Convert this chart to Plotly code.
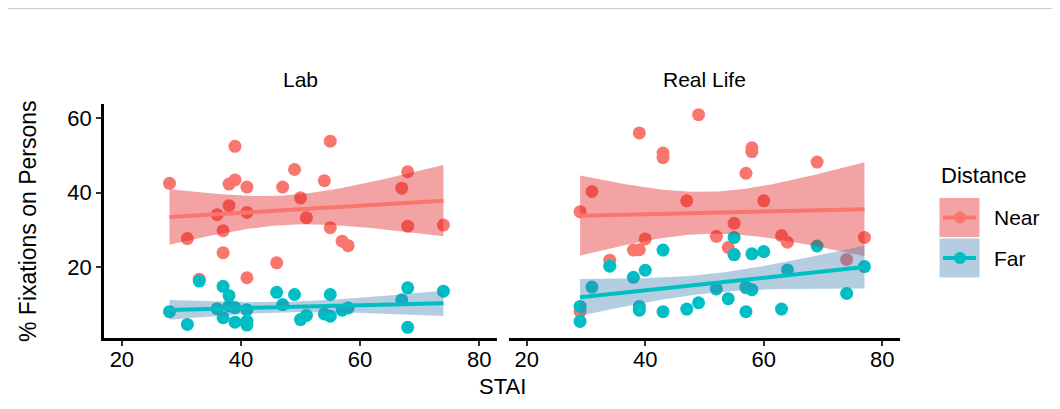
import numpy as np
import plotly.graph_objects as go
from plotly.subplots import make_subplots

# ---------------- data ----------------
lab_x = [28, 31, 33, 36, 37, 37, 38, 38, 39, 39, 41, 41, 41, 46, 47, 49, 50, 51,
         54, 55, 55, 57, 58, 67, 68, 68, 74]
lab_near = [42.5, 27.7, 16.8, 34.1, 29.8, 23.9, 36.5, 42.3, 43.4, 52.4, 41.5, 34.7,
            17.2, 21.2, 41.5, 46.2, 38.6, 33.3, 43.2, 53.8, 30.6, 27.0, 25.8, 41.2,
            45.6, 31.0, 31.3]
lab_far = [8.1, 4.7, 16.3, 8.9, 14.9, 6.5, 12.4, 9.6, 9.2, 5.3, 8.6, 5.6, 4.5, 13.3,
           10.0, 12.7, 6.0, 7.1, 7.5, 12.7, 6.9, 8.5, 9.1, 11.3, 14.5, 3.9, 13.6]

rl_x = [29, 29, 31, 34, 38, 39, 39, 40, 43, 43, 47, 49, 52, 54, 55, 55, 57, 57, 58,
        58, 60, 63, 64, 69, 74, 77]
rl_near = [34.9, 8.2, 40.3, 21.9, 24.6, 24.7, 56.0, 27.6, 50.6, 49.4, 37.8, 60.9,
           28.3, 25.3, 31.8, 23.4, 45.2, 14.5, 52.0, 51.0, 37.8, 28.5, 26.7, 48.2,
           22.1, 28.0]
rl_far = [9.5, 5.5, 14.7, 20.3, 17.3, 9.5, 8.5, 19.2, 24.6, 8.1, 8.8, 10.5, 14.2,
          11.6, 28.0, 23.4, 14.7, 8.1, 14.0, 23.6, 24.2, 8.8, 19.3, 25.7, 13.0, 20.2]

panels = ["Lab", "Real Life"]
groups = ["Near", "Far"]
x_ticks = [20, 40, 60, 80]
y_ticks = [20, 40, 60]
x_limits = [20, 80]

point_col = {"Near": "#F8766D", "Far": "#00BFC4"}
ribbon_col = {"Near": "rgba(228,26,28,0.4)", "Far": "rgba(70,130,180,0.4)"}

FONT = "Liberation Sans, Arial, sans-serif"


def t975(df):
    z = 1.959963985
    g1 = (z**3 + z) / 4
    g2 = (5 * z**5 + 16 * z**3 + 3 * z) / 96
    g3 = (3 * z**7 + 19 * z**5 + 17 * z**3 - 15 * z) / 384
    return z + g1 / df + g2 / df**2 + g3 / df**3


def lm_fit(x, y, n_grid=80):
    x = np.asarray(x, float)
    y = np.asarray(y, float)
    n = len(x)
    xm = x.mean()
    sxx = ((x - xm) ** 2).sum()
    b = ((x - xm) * (y - y.mean())).sum() / sxx
    a = y.mean() - b * xm
    res = y - (a + b * x)
    s2 = (res ** 2).sum() / (n - 2)
    g = np.linspace(x.min(), x.max(), n_grid)
    fit = a + b * g
    se = np.sqrt(s2 * (1 / n + (g - xm) ** 2 / sxx))
    t = t975(n - 2)
    return g, fit, fit - t * se, fit + t * se


fig = make_subplots(rows=1, cols=2, shared_yaxes=True, horizontal_spacing=0.015)

data = {
    "Lab": (lab_x, {"Near": lab_near, "Far": lab_far}),
    "Real Life": (rl_x, {"Near": rl_near, "Far": rl_far}),
}

for ci, p in enumerate(panels, start=1):
    xs, ys = data[p]
    for gname in groups:
        fig.add_trace(go.Scatter(
            x=xs, y=ys[gname], mode="markers",
            marker=dict(size=13, color=point_col[gname], line=dict(width=0)),
            showlegend=False, name=gname), row=1, col=ci)
    for gname in groups:
        g, fit, lo, hi = lm_fit(xs, ys[gname])
        fig.add_trace(go.Scatter(
            x=np.concatenate([g, g[::-1]]), y=np.concatenate([hi, lo[::-1]]),
            fill="toself", fillcolor=ribbon_col[gname], mode="lines",
            line=dict(width=0), hoverinfo="skip", showlegend=False), row=1, col=ci)
        fig.add_trace(go.Scatter(
            x=g, y=fit, mode="lines", line=dict(color=point_col[gname], width=4),
            showlegend=False, name=gname), row=1, col=ci)

# axis ranges (ggplot-like 5% expansion)
xr = x_limits[1] - x_limits[0]
x_range = [x_limits[0] - 0.05 * xr, x_limits[1] + 0.05 * xr]
all_y = lab_near + lab_far + rl_near + rl_far
ymin, ymax = min(all_y), max(all_y)
yr = ymax - ymin
y_range = [ymin - 0.05 * yr, ymax + 0.05 * yr]

# page body adds an 8px offset; work in screenshot pixels and shift
OFF = 8
W, H = 1060 - OFF, 409 - OFF
left_px, right_px, top_px, bot_px = 104, 900, 104, 338   # plot area in screenshot px
ml, mr = left_px - OFF, W - (right_px - OFF)
mt, mb = top_px - OFF, H - (bot_px - OFF)
pw = right_px - left_px
ph = bot_px - top_px

axis_common = dict(showgrid=False, zeroline=False, showline=True, linecolor="black",
                   linewidth=2.5, ticks="outside", ticklen=5, tickwidth=2,
                   tickcolor="#333333", tickfont=dict(size=22, color="black", family=FONT))

fig.update_xaxes(range=x_range, tickvals=x_ticks, ticklabelstandoff=-5, **axis_common)
fig.update_layout(
    xaxis=dict(domain=[0, (497 - left_px) / pw]),
    xaxis2=dict(domain=[(509 - left_px) / pw, 1]),
)
fig.update_yaxes(range=y_range, tickvals=y_ticks, **axis_common)
fig.update_yaxes(showline=False, ticks="", showticklabels=False, row=1, col=2)


def px2x(px):
    return (px - left_px) / pw


def py2y(py):
    return (bot_px - py) / ph


def ann(text, px, py, size, xanchor="center", angle=0):
    return dict(text=text, x=px2x(px), y=py2y(py), xref="paper", yref="paper",
                xanchor=xanchor, yanchor="middle", showarrow=False, textangle=angle,
                font=dict(size=size, color="black", family=FONT))


annotations = [
    ann("Lab", 300.5, 80, 21),
    ann("Real Life", 704.5, 80, 21),
    ann("STAI", 502, 386, 22),
    ann("% Fixations on Persons", 28, 221, 23, angle=-90),
    ann("Distance", 939, 175, 22, xanchor="left"),
]

shapes = [
    dict(type="line", xref="paper", yref="paper", x0=px2x(0), x1=px2x(1060),
         y0=py2y(8.5), y1=py2y(8.5), line=dict(color="#cccccc", width=1)),
]

leg_rows = {"Near": 217.5, "Far": 258}
for gname in groups:
    cy = leg_rows[gname]
    shapes.append(dict(type="rect", xref="paper", yref="paper",
                       x0=px2x(939), x1=px2x(980), y0=py2y(cy - 20), y1=py2y(cy + 20),
                       fillcolor=ribbon_col[gname], line=dict(width=1, color="white")))
    shapes.append(dict(type="line", xref="paper", yref="paper",
                       x0=px2x(943), x1=px2x(976), y0=py2y(cy), y1=py2y(cy),
                       line=dict(color=point_col[gname], width=4)))
    shapes.append(dict(type="circle", xref="paper", yref="paper",
                       x0=px2x(954), x1=px2x(966), y0=py2y(cy + 6), y1=py2y(cy - 6),
                       fillcolor=point_col[gname], line=dict(width=0)))
    annotations.append(ann(gname, 992, cy, 21, xanchor="left"))

fig.update_layout(
    width=W, height=H,
    margin=dict(l=ml, r=mr, t=mt, b=mb),
    paper_bgcolor="white", plot_bgcolor="white",
    showlegend=False,
    annotations=annotations,
    shapes=shapes,
    font=dict(family=FONT, color="black"),
)

fig.write_html("out.html")
